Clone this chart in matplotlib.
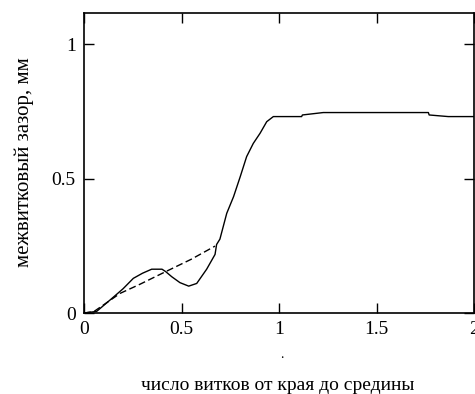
import numpy as np
from matplotlib import pyplot as plt

# solid curve
x_solid = [0, 0.065, 0.133, 0.2, 0.253, 0.3, 0.347, 0.4, 0.419, 0.45, 0.492, 0.537, 0.578, 0.629,
           0.672, 0.68, 0.697, 0.732, 0.767, 0.801, 0.834, 0.868, 0.903, 0.937, 0.971,
           1.116, 1.12, 1.227, 1.766, 1.77, 1.868, 2.0]
y_solid = [0, 0.006, 0.048, 0.09, 0.129, 0.148, 0.163, 0.163, 0.154, 0.135, 0.113, 0.100, 0.11, 0.163,
           0.218, 0.255, 0.275, 0.371, 0.433, 0.507, 0.582, 0.631, 0.669, 0.712, 0.731,
           0.731, 0.737, 0.746, 0.746, 0.737, 0.731, 0.731]

# dashed curve
x_dash = [0, 0.05, 0.1, 0.185, 0.287, 0.419, 0.55, 0.672]
y_dash = [0, 0.005, 0.03, 0.073, 0.107, 0.154, 0.2, 0.249]

xticks = [0, 0.5, 1, 1.5, 2]
xticklabels = ['0', '0.5', '1', '1.5', '2']
yticks = [0, 0.5, 1]
yticklabels = ['0', '0.5', '1']

plt.rcParams['font.family'] = ['Liberation Serif', 'DejaVu Serif']

fig = plt.figure(figsize=(4.75, 3.94), dpi=100)
ax = fig.add_axes([84/475, 1-313/394, 390/475, 300/394])
ax.plot(x_solid, y_solid, 'k-', lw=1.0)
ax.plot(x_dash, y_dash, 'k--', lw=1.0, dashes=(5, 2.5))
ax.set_xlim(0, 2)
ax.set_ylim(0, 300/268.7)
ax.set_xticks(xticks)
ax.set_xticklabels(xticklabels)
ax.set_yticks(yticks)
ax.set_yticklabels(yticklabels)
ax.tick_params(direction='in', length=7, width=1, top=True, right=True, labelsize=14, pad=6)
for s in ax.spines.values():
	s.set_linewidth(1.2)

fig.text(24/475, 1-162/394, 'межвитковый зазор, мм', rotation=90, ha='center', va='center', fontsize=15)
fig.text(278/475, 1-385/394, 'число витков от края до средины', ha='center', va='center', fontsize=14)
fig.text(282/475, 1-354/394, '.', ha='center', va='center', fontsize=10)

fig.savefig('out.png', dpi=100)
